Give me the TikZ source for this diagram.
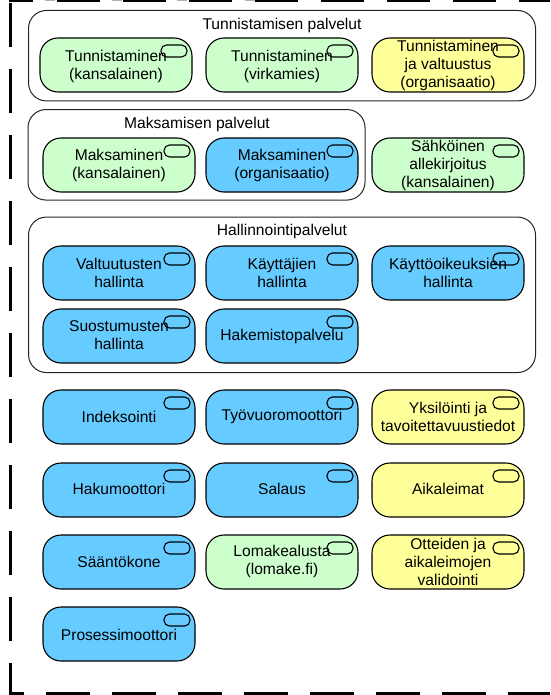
\documentclass[tikz,border=0pt]{standalone}
\usepackage{fontspec}
\setmainfont{Liberation Sans}
\tikzset{
  x=1pt,y=-1pt,
  svc/.style={draw=black,line width=1.1pt,rounded corners=18pt,minimum width=152pt,minimum height=54pt,inner sep=0pt},
  green/.style={svc,fill=svcgreen},
  blue/.style={svc,fill=svcblue},
  yellow/.style={svc,fill=svcyellow},
  svctext/.style={inner sep=0pt,align=center,text=black,font=\fontsize{15.6}{18}\selectfont},
  pill/.style={draw=black,line width=1.1pt,rounded corners=5.5pt,minimum width=26pt,minimum height=12pt,inner sep=0pt},
  grp/.style={draw=black!85,line width=1pt,rounded corners=18pt,inner sep=0pt},
  grptitle/.style={font=\fontsize{15.6}{18}\selectfont,inner sep=0pt,text=black},
  frameline/.style={line width=3pt,black,dash pattern=on 44pt off 22pt},
}
\definecolor{svcgreen}{HTML}{CCFFCC}
\definecolor{svcblue}{HTML}{66CCFF}
\definecolor{svcyellow}{HTML}{FFFF99}
\newcommand{\svc}[6]{% name, style, cx, cy, text shift down, text
  \node[#2] (#1) at (#3,#4) {};
  \node[svctext] (#1t) at ([yshift=-#5pt]#1.center) {#6};
  \node[pill,anchor=north east] (#1p) at ([xshift=-5pt,yshift=-7pt]#1.north east) {};
}
\begin{document}
\begin{tikzpicture}
\useasboundingbox (0,0) rectangle (550,695);
\fill[white] (0,0) rectangle (550,695);
% frame
\clip (0,0) rectangle (550,695);
\draw[frameline,dash phase=2pt] (550,693.5) -- (10.5,693.5) -- (10.5,1);
\draw[line width=3pt,black] (9,1) -- (33,1);
\draw[line width=3pt,black,dash pattern=on 43pt off 23pt] (57,0.5) -- (550,0.5);
\foreach \gx in {45,112,177,245}{\draw[line width=2pt,black!30] (\gx,0.3) -- ++(10,0);}
% groups
\node[grp,minimum width=507pt,minimum height=90.5pt] (g1) at (282,55.7) {};
\node[grp,minimum width=337pt,minimum height=90.5pt] (g2) at (196.5,154.8) {};
\node[grp,minimum width=507pt,minimum height=155.5pt] (g3) at (282,294.8) {};
\node[grptitle] (t1) at (282,25) {Tunnistamisen palvelut};
\node[grptitle] (t2) at (197,124) {Maksamisen palvelut};
\node[grptitle] (t3) at (282,231) {Hallinnointipalvelut};
% services
\svc{a1}{green}{116}{65}{1}{Tunnistaminen\\(kansalainen)}
\svc{a2}{green}{282}{65}{1}{Tunnistaminen\\(virkamies)}
\svc{a3}{yellow}{448}{65}{0.5}{Tunnistaminen\\ja valtuustus\\(organisaatio)}
\svc{b1}{green}{119}{165}{0}{Maksaminen\\(kansalainen)}
\svc{b2}{blue}{282}{165}{0}{Maksaminen\\(organisaatio)}
\svc{b3}{green}{448}{165}{0}{Sähköinen\\allekirjoitus\\(kansalainen)}
\svc{c1}{blue}{119}{273}{-0.5}{Valtuutusten\\hallinta}
\svc{c2}{blue}{282}{273}{-0.5}{Käyttäjien\\hallinta}
\svc{c3}{blue}{448}{273}{-0.5}{Käyttöoikeuksien\\hallinta}
\svc{d1}{blue}{119}{336}{-0.5}{Suostumusten\\hallinta}
\svc{d2}{blue}{282}{336}{0.5}{Hakemistopalvelu}
\svc{e1}{blue}{119}{417}{0}{Indeksointi}
\svc{e2}{blue}{282}{417}{-1}{Työvuoromoottori}
\svc{e3}{yellow}{448}{417}{0}{Yksilöinti ja\\tavoitettavuustiedot}
\svc{f1}{blue}{119}{490}{-1}{Hakumoottori}
\svc{f2}{blue}{282}{490}{-1}{Salaus}
\svc{f3}{yellow}{448}{490}{-1}{Aikaleimat}
\svc{h1}{blue}{119}{562}{0}{Sääntökone}
\svc{h2}{green}{282}{562}{-0.5}{Lomakealusta\\(lomake.fi)}
\svc{h3}{yellow}{448}{562}{0}{Otteiden ja\\aikaleimojen\\validointi}
\svc{i1}{blue}{119}{634}{1}{Prosessimoottori}
\end{tikzpicture}
\end{document}
